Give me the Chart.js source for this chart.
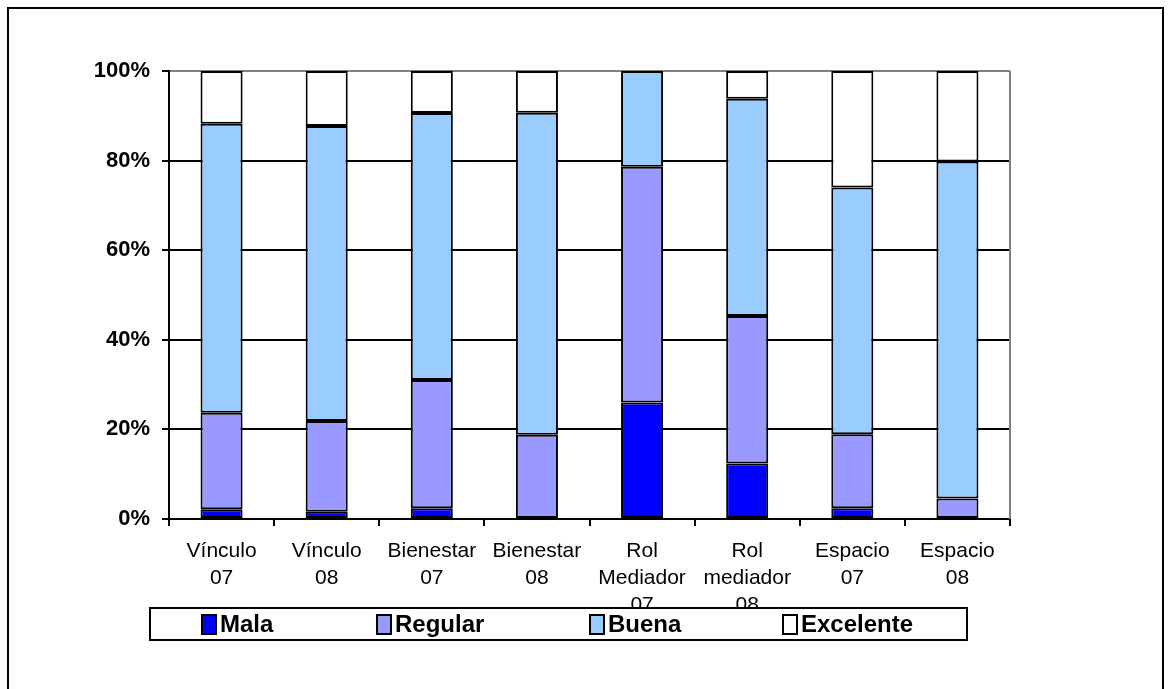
<!DOCTYPE html>
<html>
<head>
<meta charset="utf-8">
<script src="https://cdn.jsdelivr.net/npm/chart.js@4/dist/chart.umd.min.js"></script>
<style>
  html, body { margin: 0; padding: 0; background: #fff; overflow: hidden; }
  #frame { position: absolute; left: 7px; top: 7px; width: 1153px; height: 720px; border: 2px solid #000; }
  #chart { position: absolute; left: 0; top: 0; }
</style>
</head>
<body>
<div id="frame"></div>
<canvas id="chart" width="1175" height="689"></canvas>
<script>
// categories
const categories = [
  ['Vínculo', '07'], ['Vínculo', '08'], ['Bienestar', '07'], ['Bienestar', '08'],
  ['Rol', 'Mediador', '07'], ['Rol', 'mediador', '08'], ['Espacio', '07'], ['Espacio', '08']
]
// series values (percent of each column)
const mala      = [2.2, 1.6, 2.4, 0, 26.0, 12.4, 2.4, 0]
const regular   = [21.5, 20.3, 28.6, 18.8, 52.6, 32.9, 16.5, 4.6]
const buena     = [64.5, 65.8, 59.6, 71.9, 21.4, 48.5, 55.1, 75.2]
const excelente = [11.8, 12.3, 9.4, 9.3, 0, 6.2, 26.0, 20.2]
const seriesNames = ['Mala', 'Regular', 'Buena', 'Excelente']
const seriesColors = ['#0000FF', '#9999FF', '#99CCFF', '#FFFFFF']
const yTicks = [0, 20, 40, 60, 80, 100]

const FONT = 'Liberation Sans, Arial, sans-serif'

const boxLegendPlugin = {
  id: 'boxLegendPlugin',
  afterDraw (chart) {
    const { ctx, chartArea } = chart
    // gray right border of the plot area
    ctx.save()
    ctx.strokeStyle = '#808080'
    ctx.lineWidth = 2
    ctx.beginPath()
    ctx.moveTo(chartArea.right, chartArea.top)
    ctx.lineTo(chartArea.right, chartArea.bottom)
    ctx.stroke()

    // legend box (covers the clipped third label line like the original)
    const lx = 150, ly = 608, lw = 817, lh = 32
    ctx.fillStyle = '#fff'
    ctx.fillRect(lx, ly, lw, lh)
    ctx.strokeStyle = '#000'
    ctx.lineWidth = 2
    ctx.strokeRect(lx, ly, lw, lh)

    const itemX = [202, 377, 590, 783]
    ctx.font = 'bold 24px ' + FONT
    ctx.textBaseline = 'middle'
    ctx.textAlign = 'left'
    chart.data.datasets.forEach((ds, i) => {
      const sx = itemX[i], sy = ly + 7
      ctx.fillStyle = ds.backgroundColor
      ctx.fillRect(sx, sy, 14, 19)
      ctx.lineWidth = 2
      ctx.strokeStyle = '#000'
      ctx.strokeRect(sx, sy, 14, 19)
      ctx.fillStyle = '#000'
      ctx.fillText(ds.label, sx + 18, ly + lh / 2 + 1)
    })
    ctx.restore()
  }
}

const ctx = document.getElementById('chart').getContext('2d')
new Chart(ctx, {
  type: 'bar',
  data: {
    labels: categories,
    datasets: [mala, regular, buena, excelente].map((values, i) => ({
      label: seriesNames[i],
      data: values,
      backgroundColor: seriesColors[i],
      borderColor: '#000',
      borderWidth: 2,
      borderSkipped: false,
      barPercentage: 0.4,
      categoryPercentage: 1.0
    }))
  },
  options: {
    responsive: false,
    animation: false,
    devicePixelRatio: 1,
    layout: { padding: { top: 71, right: 165, left: 0, bottom: 0 } },
    plugins: {
      legend: { display: false },
      tooltip: { enabled: false }
    },
    scales: {
      x: {
        stacked: true,
        afterFit (scale) { scale.height = 170 },
        grid: {
          drawOnChartArea: false,
          drawTicks: true,
          tickLength: 7,
          color: '#000',
          lineWidth: 2
        },
        border: { color: '#000', width: 2 },
        ticks: {
          autoSkip: false,
          maxRotation: 0,
          padding: 12,
          color: '#000',
          font: { family: FONT, size: 21, lineHeight: '27px' }
        }
      },
      y: {
        stacked: true,
        min: 0,
        max: 100,
        afterFit (scale) { scale.width = 169 },
        afterBuildTicks (scale) { scale.ticks = yTicks.map(v => ({ value: v })) },
        grid: {
          color: c => (c.tick && c.tick.value === 100 ? '#808080' : '#000'),
          tickColor: '#000',
          lineWidth: 2,
          tickLength: 7
        },
        border: { color: '#000', width: 2 },
        ticks: {
          padding: 12,
          color: '#000',
          font: { family: FONT, size: 22, weight: 'bold' },
          callback: v => v + '%'
        }
      }
    }
  },
  plugins: [boxLegendPlugin]
})
</script>
</body>
</html>
